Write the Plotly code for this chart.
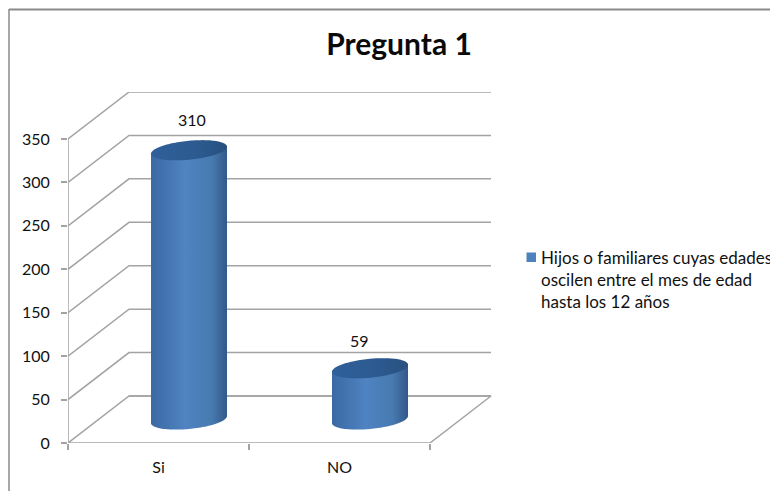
import numpy as np
import plotly.graph_objects as go

categories = ["Si", "NO"]
values = [310, 59]
y_ticks = [0, 50, 100, 150, 200, 250, 300, 350]
series_name = "Hijos o familiares cuyas edades<br>oscilen entre el mes de edad<br>hasta los 12 años"
title_text = "Pregunta 1"

FONT = "Lato, Carlito, Calibri, sans-serif"
GRID = "#a3a3a3"
OFF = 8                # the page body holds the figure 8 px in from the corner
W, H = 778, 491
MT, MB = 4, 24         # figure margins kept clear of any automatic push
L, R, T, B = 68, 492, 92, 443   # plot box in page pixels
px_x = 181.0           # pixels per category
px_y = 304.0 / 350.0   # pixels per value unit
DX = 61 / px_x         # oblique depth, in axis units
DY = 47 / px_y
half_w = 38 / px_x
ell_b = 9.5 / px_y
ell_k = 3.5 / px_y


def paper_x(px):
    return (px - OFF) / W


def paper_y(py):
    return 1 - (py - OFF - MT) / (H - MT - MB)


fig = go.Figure()


def line(xs, ys, color=GRID, width=1.5):
    fig.add_trace(go.Scatter(x=xs, y=ys, mode="lines", line=dict(color=color, width=width),
                             showlegend=False, hoverinfo="skip"))


# wall and floor lines
for v in y_ticks:
    line([0, DX, 2 + DX], [v, v + DY, v + DY])
line([0, 0], [0, max(y_ticks)])
line([0, 2, 2 + DX, DX], [0, 0, DY, DY])

# cylinders
t = np.linspace(0, 2 * np.pi, 121)
body_scale = [[0, "#3b69a2"], [0.45, "#4f83c2"], [0.8, "#477aaf"], [1, "#33588a"]]
top_scale = [[0, "#30609a"], [0.6, "#2c5a90"], [1, "#28507f"]]
for i, v in enumerate(values):
    cx = i + 0.5 + DX / 2
    cy0 = DY / 2
    lower = np.linspace(np.pi, 0, 61)
    bx = cx + half_w * np.cos(lower)
    by = cy0 - ell_b * np.sin(lower) + ell_k * np.cos(lower)
    px = np.concatenate([[cx - half_w], bx, [cx + half_w]])
    py = np.concatenate([[v + cy0 - ell_k], by, [v + cy0 + ell_k]])
    fig.add_trace(go.Scatter(x=px, y=py, mode="none", fill="toself",
                             fillgradient=dict(type="horizontal", colorscale=body_scale),
                             showlegend=False, hoverinfo="skip"))
    ex = cx + half_w * np.cos(t)
    ey = v + cy0 + ell_b * np.sin(t) + ell_k * np.cos(t)
    fig.add_trace(go.Scatter(x=ex, y=ey, mode="none", fill="toself",
                             fillgradient=dict(type="horizontal", colorscale=top_scale),
                             showlegend=False, hoverinfo="skip"))

# legend entry: text from the legend, swatch drawn beside its first line
fig.add_trace(go.Scatter(x=[None], y=[None], mode="markers", name=series_name,
                         marker=dict(symbol="square", size=10, color="rgba(0,0,0,0)")))
fig.add_shape(type="rect", xref="paper", yref="paper",
              x0=paper_x(526.5), x1=paper_x(536), y0=paper_y(252.5), y1=paper_y(262),
              fillcolor="#4f81bd", line=dict(width=0))

# data labels
label_shift_x = [3, -11]
label_shift_y = [31, 28]
for i, v in enumerate(values):
    fig.add_annotation(x=i + 0.5 + DX / 2, y=v + DY / 2, text=str(v), showarrow=False,
                       xshift=label_shift_x[i], yshift=label_shift_y[i],
                       font=dict(family=FONT, size=16, color="#111111"))

# outer frame
fig.add_shape(type="line", xref="paper", yref="paper",
              x0=paper_x(9), x1=paper_x(9), y0=paper_y(499), y1=paper_y(9),
              line=dict(color="#8a8a8a", width=1.5))
fig.add_shape(type="line", xref="paper", yref="paper",
              x0=paper_x(9), x1=paper_x(786), y0=paper_y(9.5), y1=paper_y(9.5),
              line=dict(color="#8a8a8a", width=2))

fig.update_layout(
    width=W, height=H, autosize=False,
    margin=dict(l=0, r=0, t=MT, b=MB, pad=0),
    paper_bgcolor="white", plot_bgcolor="rgba(0,0,0,0)",
    font=dict(family=FONT, color="#111111", size=16),
    title=dict(text=f"<b>{title_text}</b>", x=paper_x(399), xanchor="center", y=1 - (44 - OFF) / H,
               yanchor="middle", yref="container", font=dict(family=FONT, size=30, color="#0a0a0a")),
    legend=dict(x=paper_x(501), y=paper_y(240), xanchor="left", yanchor="top",
                font=dict(family=FONT, size=17, color="#111111"), bgcolor="rgba(0,0,0,0)",
                itemwidth=30, tracegroupgap=0),
    showlegend=True,
    xaxis=dict(domain=[paper_x(L), paper_x(R)], range=[0, (R - L) / px_x], showgrid=False,
               zeroline=False, showline=False,
               tickmode="array", tickvals=[0.5, 1.5], ticktext=categories, ticks="outside",
               ticklen=0, ticklabelstandoff=10, tickfont=dict(family=FONT, size=16),
               minor=dict(tickmode="array", tickvals=[0, 1, 2], ticks="outside", ticklen=6,
                          tickcolor=GRID, tickwidth=1.5, showgrid=False)),
    yaxis=dict(domain=[paper_y(B), paper_y(T)], range=[0, (B - T) / px_y], showgrid=False,
               zeroline=False, showline=False,
               tickmode="array", tickvals=y_ticks, ticks="outside", ticklen=6, tickcolor=GRID,
               tickwidth=1.5, ticklabelstandoff=8, tickfont=dict(family=FONT, size=16)),
)

fig.write_html("out.html")
